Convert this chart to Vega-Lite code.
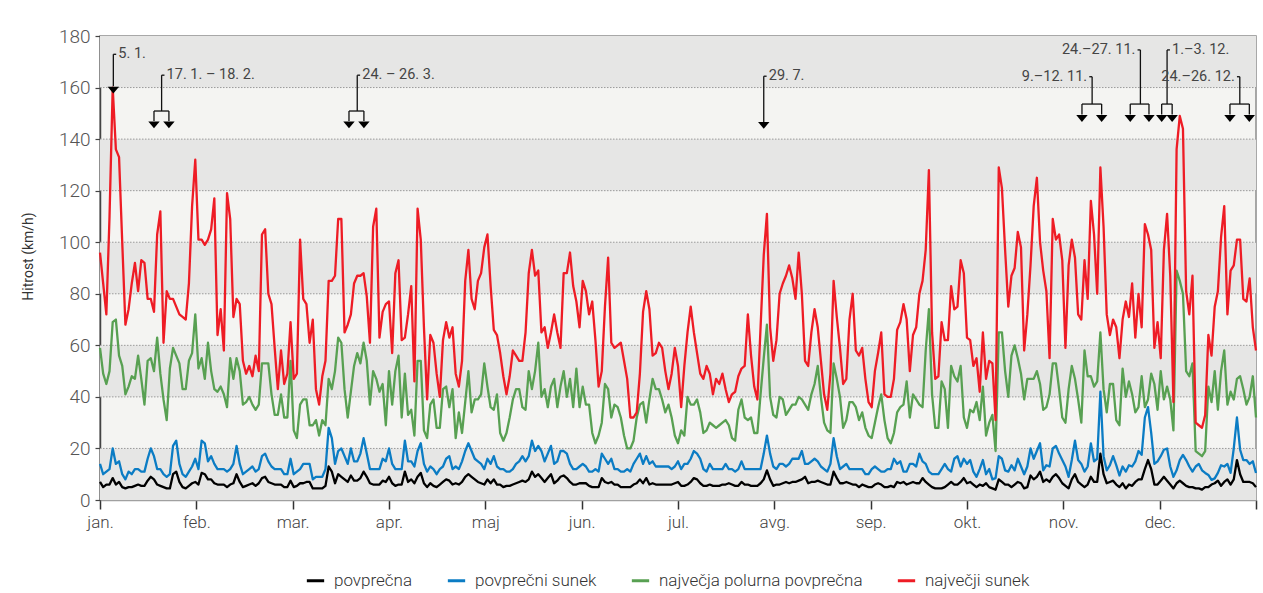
{
"$schema":"https://vega.github.io/schema/vega-lite/v6.json",
"width":1156,"height":464,
"autosize":{"type":"none"},
"padding":{"left":100,"top":36,"right":7,"bottom":93},
"background":"white",
"datasets":{
"veter":[
{"dan":0,"p":7,"ps":14,"np":59,"ns":96},{"dan":1,"p":5,"ps":10,"np":49,"ns":84},{"dan":2,"p":6,"ps":11,"np":45,"ns":72},{"dan":3,"p":6,"ps":12,"np":50,"ns":110},{"dan":4,"p":8.5,"ps":20,"np":69,"ns":160},{"dan":5,"p":6,"ps":14,"np":70,"ns":136},{"dan":6,"p":7,"ps":15,"np":56,"ns":133},{"dan":7,"p":5,"ps":10,"np":52,"ns":100},{"dan":8,"p":4.5,"ps":8,"np":41,"ns":68},{"dan":9,"p":5,"ps":11,"np":44,"ns":74},
{"dan":10,"p":5,"ps":10,"np":48,"ns":84},{"dan":11,"p":5.5,"ps":12,"np":47,"ns":92},{"dan":12,"p":6,"ps":12,"np":56,"ns":81},{"dan":13,"p":5.5,"ps":11,"np":47,"ns":93},{"dan":14,"p":5.5,"ps":11,"np":37,"ns":92},{"dan":15,"p":7.5,"ps":16,"np":54,"ns":78},{"dan":16,"p":9,"ps":20,"np":55,"ns":78},{"dan":17,"p":8,"ps":17,"np":50,"ns":73},{"dan":18,"p":6,"ps":12,"np":63,"ns":103},{"dan":19,"p":5.5,"ps":12,"np":49,"ns":112},
{"dan":20,"p":5,"ps":10,"np":39,"ns":61},{"dan":21,"p":4.5,"ps":9,"np":31,"ns":81},{"dan":22,"p":4.5,"ps":10,"np":51,"ns":78},{"dan":23,"p":10,"ps":21,"np":59,"ns":78},{"dan":24,"p":11,"ps":23,"np":56,"ns":75},{"dan":25,"p":7,"ps":14,"np":53,"ns":72},{"dan":26,"p":5,"ps":10,"np":43,"ns":71},{"dan":27,"p":4.5,"ps":9,"np":43,"ns":70},{"dan":28,"p":5.5,"ps":11,"np":54,"ns":84},{"dan":29,"p":6.5,"ps":13,"np":57,"ns":114},
{"dan":30,"p":7,"ps":16,"np":72,"ns":132},{"dan":31,"p":6,"ps":12,"np":51,"ns":101},{"dan":32,"p":10.5,"ps":23,"np":55,"ns":101},{"dan":33,"p":10,"ps":22,"np":47,"ns":99},{"dan":34,"p":8,"ps":15,"np":61,"ns":101},{"dan":35,"p":8,"ps":17,"np":50,"ns":105},{"dan":36,"p":6.5,"ps":14,"np":43,"ns":117},{"dan":37,"p":6,"ps":12,"np":42,"ns":64},{"dan":38,"p":6,"ps":12,"np":44,"ns":74},{"dan":39,"p":6,"ps":12,"np":41,"ns":58},
{"dan":40,"p":5,"ps":11,"np":36,"ns":119},{"dan":41,"p":6,"ps":12,"np":55,"ns":109},{"dan":42,"p":6.5,"ps":14,"np":47,"ns":71},{"dan":43,"p":10,"ps":21,"np":55,"ns":78},{"dan":44,"p":7,"ps":14,"np":50,"ns":76},{"dan":45,"p":5,"ps":10,"np":37,"ns":54},{"dan":46,"p":5.5,"ps":11,"np":38,"ns":49},{"dan":47,"p":6,"ps":12,"np":40,"ns":52},{"dan":48,"p":6.5,"ps":13,"np":37,"ns":48},{"dan":49,"p":5.5,"ps":11,"np":35,"ns":56},
{"dan":50,"p":6.5,"ps":12,"np":37,"ns":50},{"dan":51,"p":8.5,"ps":17,"np":53,"ns":103},{"dan":52,"p":9,"ps":18,"np":53,"ns":105},{"dan":53,"p":7,"ps":15,"np":53,"ns":80},{"dan":54,"p":6.5,"ps":13,"np":41,"ns":76},{"dan":55,"p":6,"ps":12,"np":33,"ns":59},{"dan":56,"p":6,"ps":12,"np":33,"ns":43},{"dan":57,"p":6,"ps":12,"np":41,"ns":58},{"dan":58,"p":5,"ps":10,"np":32,"ns":45},{"dan":59,"p":5,"ps":10,"np":32,"ns":49},
{"dan":60,"p":7.5,"ps":16,"np":54,"ns":69},{"dan":61,"p":5,"ps":10,"np":27,"ns":47},{"dan":62,"p":5.5,"ps":11,"np":24,"ns":49},{"dan":63,"p":6.5,"ps":12,"np":37,"ns":101},{"dan":64,"p":6.5,"ps":14,"np":39,"ns":78},{"dan":65,"p":7,"ps":14,"np":39,"ns":76},{"dan":66,"p":7,"ps":14,"np":29,"ns":61},{"dan":67,"p":4.5,"ps":8,"np":29,"ns":70},{"dan":68,"p":4.5,"ps":9,"np":31,"ns":43},{"dan":69,"p":4.5,"ps":9,"np":25,"ns":37},
{"dan":70,"p":4.5,"ps":9,"np":31,"ns":48},{"dan":71,"p":5.5,"ps":12,"np":29,"ns":54},{"dan":72,"p":13,"ps":28,"np":47,"ns":85},{"dan":73,"p":11,"ps":24,"np":43,"ns":85},{"dan":74,"p":6.5,"ps":14,"np":50,"ns":87},{"dan":75,"p":10,"ps":19,"np":63,"ns":109},{"dan":76,"p":9,"ps":20,"np":61,"ns":109},{"dan":77,"p":8,"ps":17,"np":43,"ns":65},{"dan":78,"p":7,"ps":14,"np":32,"ns":68},{"dan":79,"p":9.5,"ps":20,"np":42,"ns":72},
{"dan":80,"p":7.5,"ps":15,"np":52,"ns":84},{"dan":81,"p":7.5,"ps":15,"np":57,"ns":87},{"dan":82,"p":8.5,"ps":18,"np":53,"ns":87},{"dan":83,"p":11,"ps":24,"np":61,"ns":88},{"dan":84,"p":9,"ps":18,"np":54,"ns":79},{"dan":85,"p":6.5,"ps":12,"np":37,"ns":61},{"dan":86,"p":6,"ps":12,"np":50,"ns":106},{"dan":87,"p":6,"ps":12,"np":47,"ns":113},{"dan":88,"p":6,"ps":12,"np":42,"ns":63},{"dan":89,"p":7.5,"ps":16,"np":45,"ns":73},
{"dan":90,"p":7,"ps":15,"np":29,"ns":76},{"dan":91,"p":9,"ps":20,"np":50,"ns":77},{"dan":92,"p":6.5,"ps":14,"np":37,"ns":57},{"dan":93,"p":5.5,"ps":12,"np":50,"ns":88},{"dan":94,"p":6,"ps":12,"np":56,"ns":93},{"dan":95,"p":6,"ps":12,"np":32,"ns":62},{"dan":96,"p":11,"ps":23,"np":49,"ns":63},{"dan":97,"p":7,"ps":15,"np":33,"ns":72},{"dan":98,"p":8,"ps":15,"np":35,"ns":83},{"dan":99,"p":6.5,"ps":13,"np":25,"ns":46},
{"dan":100,"p":9,"ps":19,"np":54,"ns":113},{"dan":101,"p":10.5,"ps":22,"np":54,"ns":101},{"dan":102,"p":6.5,"ps":14,"np":27,"ns":67},{"dan":103,"p":5,"ps":11,"np":24,"ns":39},{"dan":104,"p":6.5,"ps":13,"np":37,"ns":64},{"dan":105,"p":5.5,"ps":12,"np":39,"ns":61},{"dan":106,"p":5,"ps":10,"np":28,"ns":49},{"dan":107,"p":6,"ps":12,"np":28,"ns":40},{"dan":108,"p":7,"ps":13,"np":43,"ns":62},{"dan":109,"p":8,"ps":16,"np":44,"ns":69},
{"dan":110,"p":7.5,"ps":17,"np":36,"ns":63},{"dan":111,"p":6,"ps":12,"np":43,"ns":67},{"dan":112,"p":6.5,"ps":13,"np":24,"ns":49},{"dan":113,"p":6,"ps":12,"np":34,"ns":44},{"dan":114,"p":7,"ps":15,"np":26,"ns":54},{"dan":115,"p":9,"ps":19,"np":38,"ns":85},{"dan":116,"p":10,"ps":22,"np":50,"ns":97},{"dan":117,"p":9,"ps":19,"np":34,"ns":78},{"dan":118,"p":8,"ps":16,"np":39,"ns":74},{"dan":119,"p":7,"ps":15,"np":39,"ns":85},
{"dan":120,"p":6.5,"ps":14,"np":41,"ns":88},{"dan":121,"p":6,"ps":12,"np":53,"ns":98},{"dan":122,"p":8,"ps":16,"np":44,"ns":103},{"dan":123,"p":6.5,"ps":14,"np":36,"ns":83},{"dan":124,"p":8,"ps":17,"np":35,"ns":66},{"dan":125,"p":6,"ps":13,"np":41,"ns":64},{"dan":126,"p":6,"ps":12,"np":26,"ns":57},{"dan":127,"p":5,"ps":12,"np":23,"ns":48},{"dan":128,"p":5.5,"ps":11,"np":26,"ns":41},{"dan":129,"p":5.5,"ps":11,"np":32,"ns":48},
{"dan":130,"p":6,"ps":12,"np":39,"ns":58},{"dan":131,"p":6.5,"ps":14,"np":43,"ns":56},{"dan":132,"p":7,"ps":15,"np":43,"ns":54},{"dan":133,"p":7.5,"ps":17,"np":36,"ns":54},{"dan":134,"p":7,"ps":15,"np":35,"ns":65},{"dan":135,"p":8,"ps":17,"np":50,"ns":88},{"dan":136,"p":11,"ps":23,"np":43,"ns":97},{"dan":137,"p":9,"ps":19,"np":50,"ns":87},{"dan":138,"p":10,"ps":21,"np":61,"ns":89},{"dan":139,"p":8.5,"ps":19,"np":40,"ns":65},
{"dan":140,"p":7,"ps":15,"np":43,"ns":67},{"dan":141,"p":8.5,"ps":18,"np":36,"ns":59},{"dan":142,"p":10,"ps":21,"np":44,"ns":65},{"dan":143,"p":6.5,"ps":14,"np":47,"ns":72},{"dan":144,"p":7.5,"ps":15,"np":36,"ns":65},{"dan":145,"p":9,"ps":19,"np":44,"ns":59},{"dan":146,"p":9.5,"ps":19,"np":50,"ns":88},{"dan":147,"p":8.5,"ps":18,"np":40,"ns":88},{"dan":148,"p":7,"ps":14,"np":47,"ns":96},{"dan":149,"p":6,"ps":12,"np":36,"ns":83},
{"dan":150,"p":6,"ps":12,"np":51,"ns":77},{"dan":151,"p":6.5,"ps":13,"np":36,"ns":67},{"dan":152,"p":6.5,"ps":14,"np":44,"ns":85},{"dan":153,"p":6.5,"ps":13,"np":37,"ns":81},{"dan":154,"p":5.5,"ps":11,"np":37,"ns":72},{"dan":155,"p":5,"ps":11,"np":26,"ns":77},{"dan":156,"p":5,"ps":12,"np":22,"ns":62},{"dan":157,"p":5,"ps":11,"np":25,"ns":44},{"dan":158,"p":8.5,"ps":18,"np":30,"ns":50},{"dan":159,"p":7,"ps":16,"np":45,"ns":75},
{"dan":160,"p":6.5,"ps":14,"np":43,"ns":94},{"dan":161,"p":7,"ps":16,"np":32,"ns":61},{"dan":162,"p":6,"ps":12,"np":37,"ns":59},{"dan":163,"p":6,"ps":12,"np":36,"ns":60},{"dan":164,"p":5,"ps":11,"np":32,"ns":61},{"dan":165,"p":5,"ps":11,"np":25,"ns":54},{"dan":166,"p":5,"ps":12,"np":20,"ns":47},{"dan":167,"p":5,"ps":11,"np":20,"ns":32},{"dan":168,"p":6,"ps":14,"np":23,"ns":32},{"dan":169,"p":6.5,"ps":16,"np":32,"ns":34},
{"dan":170,"p":8,"ps":18,"np":37,"ns":49},{"dan":171,"p":6.5,"ps":14,"np":38,"ns":73},{"dan":172,"p":8.5,"ps":17,"np":30,"ns":81},{"dan":173,"p":6,"ps":14,"np":39,"ns":74},{"dan":174,"p":6.5,"ps":15,"np":47,"ns":56},{"dan":175,"p":6,"ps":13,"np":43,"ns":57},{"dan":176,"p":6,"ps":13,"np":43,"ns":61},{"dan":177,"p":6,"ps":13,"np":39,"ns":59},{"dan":178,"p":6,"ps":13,"np":34,"ns":50},{"dan":179,"p":6,"ps":13,"np":37,"ns":43},
{"dan":180,"p":6,"ps":12,"np":32,"ns":49},{"dan":181,"p":6.5,"ps":13,"np":25,"ns":59},{"dan":182,"p":7,"ps":15,"np":22,"ns":52},{"dan":183,"p":5.5,"ps":12,"np":27,"ns":36},{"dan":184,"p":5.5,"ps":14,"np":25,"ns":52},{"dan":185,"p":6,"ps":14,"np":40,"ns":65},{"dan":186,"p":7,"ps":16,"np":37,"ns":75},{"dan":187,"p":8.5,"ps":19,"np":37,"ns":65},{"dan":188,"p":8,"ps":18,"np":39,"ns":57},{"dan":189,"p":6.5,"ps":16,"np":34,"ns":49},
{"dan":190,"p":5.5,"ps":12,"np":26,"ns":47},{"dan":191,"p":5.5,"ps":11,"np":27,"ns":52},{"dan":192,"p":6,"ps":14,"np":30,"ns":49},{"dan":193,"p":5.5,"ps":12,"np":29,"ns":41},{"dan":194,"p":5.5,"ps":12,"np":28,"ns":47},{"dan":195,"p":5.5,"ps":12,"np":29,"ns":45},{"dan":196,"p":6,"ps":12,"np":30,"ns":49},{"dan":197,"p":6,"ps":14,"np":31,"ns":43},{"dan":198,"p":6.5,"ps":12,"np":29,"ns":38},{"dan":199,"p":6,"ps":12,"np":24,"ns":41},
{"dan":200,"p":5.5,"ps":11,"np":23,"ns":42},{"dan":201,"p":5.5,"ps":12,"np":35,"ns":48},{"dan":202,"p":7,"ps":15,"np":39,"ns":51},{"dan":203,"p":6,"ps":12,"np":32,"ns":52},{"dan":204,"p":6,"ps":12,"np":31,"ns":72},{"dan":205,"p":5.5,"ps":12,"np":32,"ns":56},{"dan":206,"p":5.5,"ps":12,"np":26,"ns":44},{"dan":207,"p":5.5,"ps":12,"np":26,"ns":39},{"dan":208,"p":6.5,"ps":12,"np":41,"ns":67},{"dan":209,"p":8,"ps":18,"np":55,"ns":95},
{"dan":210,"p":11.5,"ps":25,"np":68,"ns":111},{"dan":211,"p":8,"ps":18,"np":40,"ns":67},{"dan":212,"p":5.5,"ps":13,"np":33,"ns":54},{"dan":213,"p":6,"ps":12,"np":32,"ns":62},{"dan":214,"p":6,"ps":14,"np":40,"ns":80},{"dan":215,"p":6.5,"ps":14,"np":39,"ns":84},{"dan":216,"p":7,"ps":13,"np":33,"ns":87},{"dan":217,"p":6.5,"ps":14,"np":35,"ns":91},{"dan":218,"p":7,"ps":16,"np":37,"ns":86},{"dan":219,"p":7,"ps":16,"np":37,"ns":78},
{"dan":220,"p":7.5,"ps":16,"np":40,"ns":96},{"dan":221,"p":8,"ps":19,"np":39,"ns":80},{"dan":222,"p":9,"ps":14,"np":37,"ns":54},{"dan":223,"p":6.5,"ps":14,"np":35,"ns":52},{"dan":224,"p":7,"ps":15,"np":41,"ns":65},{"dan":225,"p":7,"ps":16,"np":45,"ns":74},{"dan":226,"p":7.5,"ps":15,"np":52,"ns":67},{"dan":227,"p":7,"ps":13,"np":40,"ns":54},{"dan":228,"p":6.5,"ps":12,"np":30,"ns":41},{"dan":229,"p":6,"ps":11,"np":27,"ns":35},
{"dan":230,"p":6,"ps":14,"np":26,"ns":49},{"dan":231,"p":11,"ps":24,"np":53,"ns":85},{"dan":232,"p":8.5,"ps":17,"np":47,"ns":71},{"dan":233,"p":6.5,"ps":12,"np":40,"ns":59},{"dan":234,"p":6.5,"ps":13,"np":28,"ns":45},{"dan":235,"p":7,"ps":14,"np":31,"ns":47},{"dan":236,"p":6.5,"ps":12,"np":38,"ns":70},{"dan":237,"p":6,"ps":12,"np":38,"ns":80},{"dan":238,"p":6,"ps":12,"np":36,"ns":58},{"dan":239,"p":5,"ps":12,"np":31,"ns":56},
{"dan":240,"p":6,"ps":12,"np":34,"ns":59},{"dan":241,"p":5.5,"ps":10,"np":28,"ns":47},{"dan":242,"p":5,"ps":10,"np":25,"ns":38},{"dan":243,"p":5,"ps":12,"np":24,"ns":36},{"dan":244,"p":6,"ps":13,"np":30,"ns":50},{"dan":245,"p":6.5,"ps":12,"np":36,"ns":57},{"dan":246,"p":6,"ps":11,"np":41,"ns":65},{"dan":247,"p":5,"ps":11,"np":31,"ns":41},{"dan":248,"p":5,"ps":12,"np":24,"ns":40},{"dan":249,"p":5.5,"ps":12,"np":22,"ns":40},
{"dan":250,"p":5,"ps":16,"np":26,"ns":47},{"dan":251,"p":7,"ps":14,"np":34,"ns":66},{"dan":252,"p":6.5,"ps":15,"np":36,"ns":69},{"dan":253,"p":7,"ps":11,"np":37,"ns":76},{"dan":254,"p":6,"ps":11,"np":46,"ns":70},{"dan":255,"p":6.5,"ps":14,"np":32,"ns":50},{"dan":256,"p":7,"ps":14,"np":41,"ns":64},{"dan":257,"p":6.5,"ps":13,"np":39,"ns":67},{"dan":258,"p":6.5,"ps":18,"np":37,"ns":80},{"dan":259,"p":8.5,"ps":15,"np":36,"ns":85},
{"dan":260,"p":7,"ps":14,"np":58,"ns":97},{"dan":261,"p":6,"ps":11,"np":74,"ns":128},{"dan":262,"p":5,"ps":10,"np":41,"ns":65},{"dan":263,"p":4.5,"ps":10,"np":28,"ns":47},{"dan":264,"p":4.5,"ps":10,"np":28,"ns":48},{"dan":265,"p":4.5,"ps":12,"np":46,"ns":69},{"dan":266,"p":5,"ps":14,"np":43,"ns":62},{"dan":267,"p":6,"ps":12,"np":28,"ns":62},{"dan":268,"p":7,"ps":11,"np":52,"ns":83},{"dan":269,"p":6,"ps":16,"np":48,"ns":74},
{"dan":270,"p":6,"ps":17,"np":46,"ns":75},{"dan":271,"p":7,"ps":13,"np":52,"ns":93},{"dan":272,"p":8.5,"ps":16,"np":32,"ns":88},{"dan":273,"p":6.5,"ps":14,"np":28,"ns":63},{"dan":274,"p":7,"ps":15.5,"np":35,"ns":62},{"dan":275,"p":6,"ps":11,"np":34,"ns":52},{"dan":276,"p":5,"ps":9,"np":38,"ns":55},{"dan":277,"p":6,"ps":12,"np":31,"ns":42},{"dan":278,"p":5.5,"ps":15.5,"np":44,"ns":65},{"dan":279,"p":6.5,"ps":10,"np":25,"ns":47},
{"dan":280,"p":5,"ps":12,"np":30,"ns":54},{"dan":281,"p":4.5,"ps":8,"np":33,"ns":53},{"dan":282,"p":4,"ps":8.5,"np":19,"ns":31},{"dan":283,"p":8,"ps":17,"np":65,"ns":129},{"dan":284,"p":7,"ps":16,"np":65,"ns":121},{"dan":285,"p":6,"ps":11.5,"np":50,"ns":97},{"dan":286,"p":6,"ps":11,"np":40,"ns":75},{"dan":287,"p":5,"ps":13.5,"np":56,"ns":87},{"dan":288,"p":6,"ps":11.5,"np":60,"ns":90},{"dan":289,"p":7,"ps":16,"np":55,"ns":104},
{"dan":290,"p":6.5,"ps":13,"np":49,"ns":98},{"dan":291,"p":4.5,"ps":10,"np":39,"ns":58},{"dan":292,"p":5,"ps":13,"np":47,"ns":72},{"dan":293,"p":9.5,"ps":20,"np":47,"ns":91},{"dan":294,"p":8,"ps":16,"np":47,"ns":114},{"dan":295,"p":9,"ps":19,"np":50,"ns":125},{"dan":296,"p":11,"ps":22,"np":45,"ns":100},{"dan":297,"p":7,"ps":11.5,"np":35,"ns":89},{"dan":298,"p":8,"ps":13.5,"np":36,"ns":81},{"dan":299,"p":7,"ps":13,"np":41,"ns":55},
{"dan":300,"p":9,"ps":20,"np":53,"ns":109},{"dan":301,"p":10,"ps":21,"np":53,"ns":101},{"dan":302,"p":8.5,"ps":18,"np":43,"ns":103},{"dan":303,"p":6.5,"ps":15.5,"np":32,"ns":93},{"dan":304,"p":5.5,"ps":13,"np":30,"ns":59},{"dan":305,"p":4.5,"ps":9,"np":43,"ns":91},{"dan":306,"p":8,"ps":15.5,"np":52,"ns":101},{"dan":307,"p":10,"ps":23,"np":47,"ns":94},{"dan":308,"p":7,"ps":15.5,"np":39,"ns":72},{"dan":309,"p":6,"ps":14,"np":30,"ns":70},
{"dan":310,"p":5,"ps":11,"np":58,"ns":93},{"dan":311,"p":6,"ps":13,"np":48,"ns":78},{"dan":312,"p":9,"ps":22,"np":48,"ns":116},{"dan":313,"p":7,"ps":15,"np":44,"ns":103},{"dan":314,"p":7,"ps":16,"np":46,"ns":80},{"dan":315,"p":18,"ps":42,"np":65,"ns":129},{"dan":316,"p":10,"ps":17,"np":43,"ns":106},{"dan":317,"p":6.5,"ps":11.5,"np":34,"ns":72},{"dan":318,"p":7,"ps":13.5,"np":45,"ns":64},{"dan":319,"p":7.5,"ps":17,"np":45,"ns":70},
{"dan":320,"p":6,"ps":13.5,"np":31,"ns":67},{"dan":321,"p":5,"ps":9.5,"np":29,"ns":55},{"dan":322,"p":6.5,"ps":13,"np":51,"ns":70},{"dan":323,"p":4.5,"ps":11,"np":40,"ns":77},{"dan":324,"p":6,"ps":13.5,"np":46,"ns":71},{"dan":325,"p":5.5,"ps":13,"np":41,"ns":84},{"dan":326,"p":7,"ps":15,"np":34,"ns":63},{"dan":327,"p":8,"ps":19,"np":36,"ns":80},{"dan":328,"p":8,"ps":17.5,"np":48,"ns":67},{"dan":329,"p":12,"ps":32,"np":36,"ns":107},
{"dan":330,"p":15.5,"ps":36,"np":39,"ns":103},{"dan":331,"p":12,"ps":26,"np":49,"ns":97},{"dan":332,"p":6,"ps":14,"np":45,"ns":59},{"dan":333,"p":6,"ps":15,"np":35,"ns":69},{"dan":334,"p":7.5,"ps":17,"np":50,"ns":55},{"dan":335,"p":9,"ps":19.5,"np":39,"ns":97},{"dan":336,"p":7.5,"ps":20,"np":44,"ns":111},{"dan":337,"p":6,"ps":13,"np":39,"ns":87},{"dan":338,"p":4.5,"ps":9,"np":27,"ns":38},{"dan":339,"p":6.5,"ps":11.5,"np":89,"ns":136},
{"dan":340,"p":7.5,"ps":15.5,"np":85,"ns":149},{"dan":341,"p":6.5,"ps":17.5,"np":80,"ns":144},{"dan":342,"p":5.5,"ps":15.5,"np":50,"ns":81},{"dan":343,"p":5,"ps":13,"np":48,"ns":72},{"dan":344,"p":5,"ps":11,"np":53,"ns":87},{"dan":345,"p":4.5,"ps":13,"np":19,"ns":30},{"dan":346,"p":4.5,"ps":14,"np":18,"ns":29},{"dan":347,"p":4,"ps":11.5,"np":17,"ns":28},{"dan":348,"p":5,"ps":10.5,"np":19,"ns":33},{"dan":349,"p":5,"ps":9.7,"np":44,"ns":64},
{"dan":350,"p":6,"ps":7.8,"np":38,"ns":56},{"dan":351,"p":6.5,"ps":8.4,"np":50,"ns":75},{"dan":352,"p":7.5,"ps":10.5,"np":35,"ns":81},{"dan":353,"p":5.5,"ps":13.5,"np":50,"ns":102},{"dan":354,"p":7,"ps":13,"np":58,"ns":114},{"dan":355,"p":8,"ps":14,"np":37,"ns":72},{"dan":356,"p":6,"ps":10.5,"np":42,"ns":89},{"dan":357,"p":8,"ps":20,"np":39,"ns":91},{"dan":358,"p":15.5,"ps":32,"np":47,"ns":101},{"dan":359,"p":10,"ps":19.5,"np":48,"ns":101},
{"dan":360,"p":7,"ps":15.5,"np":43,"ns":78},{"dan":361,"p":7,"ps":15.5,"np":37,"ns":77},{"dan":362,"p":7,"ps":14,"np":40,"ns":86},{"dan":363,"p":6.5,"ps":15,"np":48,"ns":67},{"dan":364,"p":5,"ps":10.5,"np":32,"ns":58}
],
"pasovi":[{"od":0,"do":20},{"od":40,"do":60},{"od":80,"do":100},{"od":120,"do":140},{"od":160,"do":180}],
"mreza":[{"v":20},{"v":40},{"v":60},{"v":80},{"v":100},{"v":120},{"v":140},{"v":160}],
"strelice":[{"dan":4.2,"v":159},{"dan":17.0,"v":145.5},{"dan":21.7,"v":145.5},{"dan":78.4,"v":145.5},{"dan":83.1,"v":145.5},{"dan":209.0,"v":145.3},{"dan":309.2,"v":148},{"dan":315.4,"v":148},{"dan":324.4,"v":148},{"dan":330.3,"v":148},{"dan":334.3,"v":148},{"dan":337.6,"v":148},{"dan":355.8,"v":148},{"dan":361.9,"v":148}],
"navpicne":[{"dan":4.2,"od":172.9,"do":160.5},{"dan":19.4,"od":164.8,"do":150.9},{"dan":81.0,"od":164.8,"do":150.9},{"dan":209.0,"od":164.4,"do":146.5},{"dan":312.4,"od":164.2,"do":153.6},{"dan":327.6,"od":174.6,"do":153.6},{"dan":336.0,"od":174.6,"do":153.6},{"dan":358.9,"od":164.2,"do":153.6},
{"dan":17.0,"od":150.9,"do":147},{"dan":21.7,"od":150.9,"do":147},{"dan":78.4,"od":150.9,"do":147},{"dan":83.1,"od":150.9,"do":147},
{"dan":309.2,"od":153.6,"do":149.5},{"dan":315.4,"od":153.6,"do":149.5},{"dan":324.4,"od":153.6,"do":149.5},{"dan":330.3,"od":153.6,"do":149.5},{"dan":334.3,"od":153.6,"do":149.5},{"dan":337.6,"od":153.6,"do":149.5},{"dan":355.8,"od":153.6,"do":149.5},{"dan":361.9,"od":153.6,"do":149.5}],
"vodoravne":[{"od":17.0,"do":21.7,"v":150.9},{"od":78.4,"do":83.1,"v":150.9},{"od":309.2,"do":315.4,"v":153.6},{"od":324.4,"do":330.3,"v":153.6},{"od":334.3,"do":337.6,"v":153.6},{"od":355.8,"do":361.9,"v":153.6},
{"od":4.2,"do":5.1,"v":172.9},{"od":19.4,"do":20.3,"v":164.8},{"od":81.0,"do":81.9,"v":164.8},{"od":209.0,"do":209.9,"v":164.4},{"od":311.5,"do":312.4,"v":164.2},{"od":326.7,"do":327.6,"v":174.6},{"od":336.0,"do":336.9,"v":174.6},{"od":358.0,"do":358.9,"v":164.2}],
"napisi_desno":[{"dan":4.2,"v":172.9,"t":"5. 1."},{"dan":19.4,"v":164.8,"t":"17. 1. – 18. 2."},{"dan":81.0,"v":164.8,"t":"24. – 26. 3."},{"dan":209.0,"v":164.4,"t":"29. 7."},{"dan":336.0,"v":174.6,"t":"1.–3. 12."}],
"napisi_levo":[{"dan":312.4,"v":164.2,"t":"9.–12. 11."},{"dan":327.6,"v":174.6,"t":"24.–27. 11."},{"dan":358.9,"v":164.2,"t":"24.–26. 12."}]
},
"layer":[
{"data":{"name":"pasovi"},"mark":{"type":"rect","color":"#e6e6e5"},
 "encoding":{"x":{"datum":0,"type":"quantitative","scale":{"domain":[0,364],"nice":false,"zero":false},"axis":{"title":null,"values":[0,30.3333,60.6667,91,121.3333,151.6667,182,212.3333,242.6667,273,303.3333,333.6667,364],"labelExpr":"['jan.','feb.','mar.','apr.','maj','jun.','jul.','avg.','sep.','okt.','nov.','dec.',''][round(datum.value*12/364)]"}},"x2":{"datum":364},
 "y":{"field":"od","type":"quantitative","scale":{"domain":[0,180],"nice":false},"axis":{"title":"Hitrost (km/h)","values":[0,20,40,60,80,100,120,140,160,180]}},"y2":{"field":"do"}}},
{"data":{"name":"mreza"},"mark":{"type":"rule","color":"#9a9a9a","strokeWidth":1,"strokeDash":[1.5,1.5]},
 "encoding":{"x":{"datum":0,"type":"quantitative","scale":{"domain":[0,364],"nice":false,"zero":false},"axis":{"title":null,"values":[0,30.3333,60.6667,91,121.3333,151.6667,182,212.3333,242.6667,273,303.3333,333.6667,364],"labelExpr":"['jan.','feb.','mar.','apr.','maj','jun.','jul.','avg.','sep.','okt.','nov.','dec.',''][round(datum.value*12/364)]"}},"x2":{"datum":364},
 "y":{"field":"v","type":"quantitative","scale":{"domain":[0,180],"nice":false},"axis":{"title":"Hitrost (km/h)","values":[0,20,40,60,80,100,120,140,160,180]}}}},
{"data":{"name":"veter"},"mark":{"type":"line","strokeWidth":2.3,"strokeJoin":"round"},
 "encoding":{
  "x":{"field":"dan","type":"quantitative","scale":{"domain":[0,364],"nice":false,"zero":false},"axis":{"title":null,"values":[0,30.3333,60.6667,91,121.3333,151.6667,182,212.3333,242.6667,273,303.3333,333.6667,364],"labelExpr":"['jan.','feb.','mar.','apr.','maj','jun.','jul.','avg.','sep.','okt.','nov.','dec.',''][round(datum.value*12/364)]"}},
  "y":{"field":"p","type":"quantitative","scale":{"domain":[0,180],"nice":false},"axis":{"title":"Hitrost (km/h)","values":[0,20,40,60,80,100,120,140,160,180]}},
  "color":{"datum":"povprečna","type":"nominal",
   "scale":{"domain":["povprečna","povprečni sunek","največja polurna povprečna","največji sunek"],"range":["#000000","#0b7cc4","#58a052","#ee1c25"]},
   "legend":{"title":null,"orient":"none","legendX":205,"legendY":534,"direction":"horizontal","symbolType":"stroke","symbolStrokeWidth":3,"symbolSize":300,
    "labelFontSize":17,"labelColor":"#333333","labelLimit":0,"columnPadding":28,"labelOffset":8,"padding":0}}}},
{"data":{"name":"veter"},"mark":{"type":"line","strokeWidth":2.3,"strokeJoin":"round"},
 "encoding":{"x":{"field":"dan","type":"quantitative","scale":{"domain":[0,364],"nice":false,"zero":false},"axis":{"title":null,"values":[0,30.3333,60.6667,91,121.3333,151.6667,182,212.3333,242.6667,273,303.3333,333.6667,364],"labelExpr":"['jan.','feb.','mar.','apr.','maj','jun.','jul.','avg.','sep.','okt.','nov.','dec.',''][round(datum.value*12/364)]"}},
  "y":{"field":"ps","type":"quantitative","scale":{"domain":[0,180],"nice":false},"axis":{"title":"Hitrost (km/h)","values":[0,20,40,60,80,100,120,140,160,180]}},
  "color":{"datum":"povprečni sunek","type":"nominal"}}},
{"data":{"name":"veter"},"mark":{"type":"line","strokeWidth":2.3,"strokeJoin":"round"},
 "encoding":{"x":{"field":"dan","type":"quantitative","scale":{"domain":[0,364],"nice":false,"zero":false},"axis":{"title":null,"values":[0,30.3333,60.6667,91,121.3333,151.6667,182,212.3333,242.6667,273,303.3333,333.6667,364],"labelExpr":"['jan.','feb.','mar.','apr.','maj','jun.','jul.','avg.','sep.','okt.','nov.','dec.',''][round(datum.value*12/364)]"}},
  "y":{"field":"np","type":"quantitative","scale":{"domain":[0,180],"nice":false},"axis":{"title":"Hitrost (km/h)","values":[0,20,40,60,80,100,120,140,160,180]}},
  "color":{"datum":"največja polurna povprečna","type":"nominal"}}},
{"data":{"name":"veter"},"mark":{"type":"line","strokeWidth":2.3,"strokeJoin":"round"},
 "encoding":{"x":{"field":"dan","type":"quantitative","scale":{"domain":[0,364],"nice":false,"zero":false},"axis":{"title":null,"values":[0,30.3333,60.6667,91,121.3333,151.6667,182,212.3333,242.6667,273,303.3333,333.6667,364],"labelExpr":"['jan.','feb.','mar.','apr.','maj','jun.','jul.','avg.','sep.','okt.','nov.','dec.',''][round(datum.value*12/364)]"}},
  "y":{"field":"ns","type":"quantitative","scale":{"domain":[0,180],"nice":false},"axis":{"title":"Hitrost (km/h)","values":[0,20,40,60,80,100,120,140,160,180]}},
  "color":{"datum":"največji sunek","type":"nominal"}}},
{"data":{"name":"navpicne"},"mark":{"type":"rule","color":"#111111","strokeWidth":1.3},
 "encoding":{"x":{"field":"dan","type":"quantitative","scale":{"domain":[0,364],"nice":false,"zero":false},"axis":{"title":null,"values":[0,30.3333,60.6667,91,121.3333,151.6667,182,212.3333,242.6667,273,303.3333,333.6667,364],"labelExpr":"['jan.','feb.','mar.','apr.','maj','jun.','jul.','avg.','sep.','okt.','nov.','dec.',''][round(datum.value*12/364)]"}},
  "y":{"field":"od","type":"quantitative","scale":{"domain":[0,180],"nice":false},"axis":{"title":"Hitrost (km/h)","values":[0,20,40,60,80,100,120,140,160,180]}},"y2":{"field":"do"}}},
{"data":{"name":"vodoravne"},"mark":{"type":"rule","color":"#111111","strokeWidth":1.3},
 "encoding":{"x":{"field":"od","type":"quantitative","scale":{"domain":[0,364],"nice":false,"zero":false},"axis":{"title":null,"values":[0,30.3333,60.6667,91,121.3333,151.6667,182,212.3333,242.6667,273,303.3333,333.6667,364],"labelExpr":"['jan.','feb.','mar.','apr.','maj','jun.','jul.','avg.','sep.','okt.','nov.','dec.',''][round(datum.value*12/364)]"}},"x2":{"field":"do"},
  "y":{"field":"v","type":"quantitative","scale":{"domain":[0,180],"nice":false},"axis":{"title":"Hitrost (km/h)","values":[0,20,40,60,80,100,120,140,160,180]}}}},
{"data":{"name":"strelice"},"mark":{"type":"point","shape":"M-1,-0.6L1,-0.6L0,0.6Z","filled":true,"color":"#000000","opacity":1,"size":130},
 "encoding":{"x":{"field":"dan","type":"quantitative","scale":{"domain":[0,364],"nice":false,"zero":false},"axis":{"title":null,"values":[0,30.3333,60.6667,91,121.3333,151.6667,182,212.3333,242.6667,273,303.3333,333.6667,364],"labelExpr":"['jan.','feb.','mar.','apr.','maj','jun.','jul.','avg.','sep.','okt.','nov.','dec.',''][round(datum.value*12/364)]"}},
  "y":{"field":"v","type":"quantitative","scale":{"domain":[0,180],"nice":false},"axis":{"title":"Hitrost (km/h)","values":[0,20,40,60,80,100,120,140,160,180]}}}},
{"data":{"name":"napisi_desno"},"mark":{"type":"text","align":"left","baseline":"middle","dx":5,"fontSize":14.5,"color":"#444444"},
 "encoding":{"x":{"field":"dan","type":"quantitative","scale":{"domain":[0,364],"nice":false,"zero":false},"axis":{"title":null,"values":[0,30.3333,60.6667,91,121.3333,151.6667,182,212.3333,242.6667,273,303.3333,333.6667,364],"labelExpr":"['jan.','feb.','mar.','apr.','maj','jun.','jul.','avg.','sep.','okt.','nov.','dec.',''][round(datum.value*12/364)]"}},
  "y":{"field":"v","type":"quantitative","scale":{"domain":[0,180],"nice":false},"axis":{"title":"Hitrost (km/h)","values":[0,20,40,60,80,100,120,140,160,180]}},"text":{"field":"t"}}},
{"data":{"name":"napisi_levo"},"mark":{"type":"text","align":"right","baseline":"middle","dx":-5,"fontSize":14.5,"color":"#444444"},
 "encoding":{"x":{"field":"dan","type":"quantitative","scale":{"domain":[0,364],"nice":false,"zero":false},"axis":{"title":null,"values":[0,30.3333,60.6667,91,121.3333,151.6667,182,212.3333,242.6667,273,303.3333,333.6667,364],"labelExpr":"['jan.','feb.','mar.','apr.','maj','jun.','jul.','avg.','sep.','okt.','nov.','dec.',''][round(datum.value*12/364)]"}},
  "y":{"field":"v","type":"quantitative","scale":{"domain":[0,180],"nice":false},"axis":{"title":"Hitrost (km/h)","values":[0,20,40,60,80,100,120,140,160,180]}},"text":{"field":"t"}}}
],
"config":{
 "font":"Roboto",
 "view":{"fill":"#f4f4f2","stroke":"#8c8c8c","strokeWidth":1.5},
 "axis":{"labelFont":"Roboto","titleFont":"Roboto","zindex":1,"grid":false},
 "axisX":{"labelFlush":false,"labelOverlap":false,"labelFontSize":17,"labelFontWeight":300,"labelColor":"#444444","labelPadding":5,
   "tickSize":9,"tickColor":"#333333","tickWidth":1.5,"domainColor":"#a0a0a0","domainWidth":1.5},
 "axisY":{"labelFontSize":19,"labelFontWeight":300,"labelColor":"#555555","labelPadding":5,"labelOverlap":false,
   "tickSize":5,"tickColor":"#444444","tickWidth":1.2,"domainColor":"#444444","domainWidth":1.5,
   "titleFontSize":14,"titleFontWeight":"normal","titleColor":"#333333","titleX":-72,"titleY":220,"titleAngle":270,"titleAlign":"center","titleBaseline":"middle"},
 "legend":{"labelFont":"Roboto","labelFontWeight":300},
 "text":{"font":"Roboto"}
}
}
